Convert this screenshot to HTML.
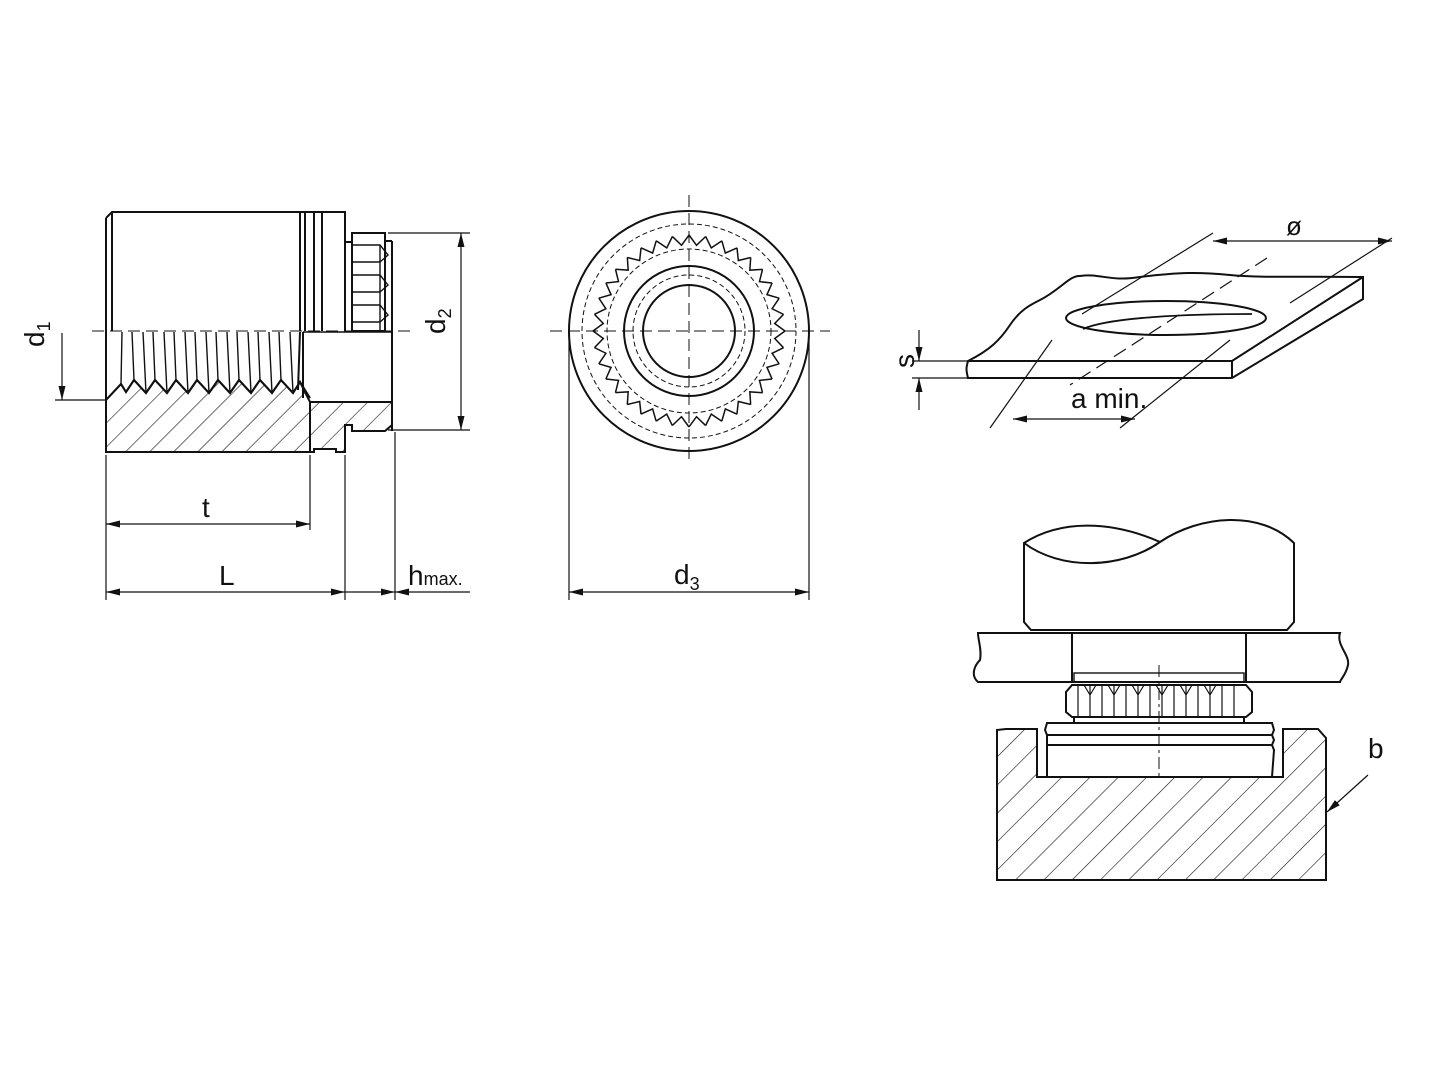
<!DOCTYPE html>
<html><head><meta charset="utf-8"><style>
html,body{margin:0;padding:0;background:#fff;}
svg{display:block;}
text{font-family:"Liberation Sans",sans-serif;fill:#111;}
</style></head><body>
<svg width="1440" height="1080" viewBox="0 0 1440 1080" xmlns="http://www.w3.org/2000/svg">
<defs>
<pattern id="h" patternUnits="userSpaceOnUse" width="17" height="17" patternTransform="rotate(45)">
<line x1="0" y1="0" x2="0" y2="17" stroke="#111" stroke-width="1.2"/></pattern>
<pattern id="h2" patternUnits="userSpaceOnUse" width="20" height="20" patternTransform="rotate(45)">
<line x1="0" y1="0" x2="0" y2="20" stroke="#111" stroke-width="1.2"/></pattern>
<marker id="a" viewBox="0 0 14 8" refX="14" refY="4" markerWidth="14" markerHeight="8" orient="auto-start-reverse" markerUnits="userSpaceOnUse"><path d="M0,0.5 L14,4 L0,7.5z" fill="#111"/></marker>
<path id="t" d="M785,331 L774.7,338.5 L783.5,347.7" fill="none" stroke="#111" stroke-width="1.5"/>
</defs>
<g fill="none" stroke="#111" stroke-width="2">
<!-- LEFT VIEW -->
<path d="M106,218 L112,212 L300,212 L300,331"/>
<line x1="112" y1="212" x2="112" y2="331"/>
<line x1="106" y1="218" x2="106" y2="452"/>
<path d="M300,212 L345,212 L345,331"/>
<line x1="305" y1="212" x2="305" y2="331"/>
<line x1="314" y1="212" x2="314" y2="331"/>
<line x1="322" y1="212" x2="322" y2="331"/>
<path d="M345,242 L352,242"/>
<rect x="352" y="233" width="33" height="98"/>
<line x1="392" y1="241" x2="392" y2="431"/>
<path d="M385,241 L392,241"/>
<g stroke-width="1.4"><path d="M352,245 L380,245 L388,255 L380,262 L352,262 M352,275 L380,275 L388,285 L380,292 L352,292 M352,305 L380,305 L388,315 L380,322 L352,322 M380,245 L380,331"/></g>
<path d="M106,400 L121,384 L126,392 L134,380 L146,393 L155,380 L167,393 L176,380 L188,393 L197,380 L209,393 L218,380 L230,393 L239,380 L251,393 L260,380 L272,393 L281,380 L293,393 L300,382 L310,398"/>
<g stroke-width="1.4"><path d="M122,332 L121,384 M132,332 L134,380 M143,332 L146,393 M153,332 L155,380 M164,332 L167,393 M174,332 L176,380 M185,332 L188,393 M195,332 L197,380 M206,332 L209,393 M216,332 L218,380 M227,332 L230,393 M237,332 L239,380 M248,332 L251,393 M258,332 L260,380 M269,332 L272,393 M279,332 L281,380 M290,332 L293,393"/></g>
<line x1="300" y1="332" x2="298" y2="390"/>
<line x1="303" y1="332" x2="303" y2="398"/>
<path d="M106,400 L121,384 L126,392 L134,380 L146,393 L155,380 L167,393 L176,380 L188,393 L197,380 L209,393 L218,380 L230,393 L239,380 L251,393 L260,380 L272,393 L281,380 L293,393 L300,382 L310,402 L392,402 L392,425 L385,431 L352,431 L352,425 L345,425 L345,452 L336,452 L336,449 L314,449 L314,452 L106,452 Z" fill="url(#h)"/>
<line x1="310" y1="402" x2="310" y2="452"/>
<line x1="303" y1="332" x2="392" y2="332" stroke-width="1.5"/>
<line x1="92" y1="331" x2="410" y2="331" stroke-width="1" stroke-dasharray="12,6"/>
<g stroke-width="1.2">
<line x1="106" y1="455" x2="106" y2="600"/>
<line x1="310" y1="455" x2="310" y2="530"/>
<line x1="345" y1="455" x2="345" y2="600"/>
<line x1="395" y1="432" x2="395" y2="600"/>
<line x1="106" y1="524" x2="310" y2="524" marker-start="url(#a)" marker-end="url(#a)"/>
<line x1="106" y1="592" x2="345" y2="592" marker-start="url(#a)" marker-end="url(#a)"/>
<line x1="345" y1="592" x2="395" y2="592" marker-end="url(#a)"/>
<line x1="395" y1="592" x2="470" y2="592" marker-start="url(#a)"/>
<line x1="388" y1="233" x2="470" y2="233"/>
<line x1="388" y1="430" x2="470" y2="430"/>
<line x1="461" y1="233" x2="461" y2="430" marker-start="url(#a)" marker-end="url(#a)"/>
<line x1="62" y1="333" x2="62" y2="400" marker-end="url(#a)"/>
<line x1="55" y1="400" x2="106" y2="400"/>
</g>
<!-- MIDDLE VIEW -->
<circle cx="689" cy="331" r="120"/>
<circle cx="689" cy="331" r="107" stroke-width="1" stroke-dasharray="5,3"/>
<circle cx="689" cy="331" r="82" stroke-width="1" stroke-dasharray="5,3"/>
<circle cx="689" cy="331" r="65"/>
<circle cx="689" cy="331" r="56" stroke-width="1" stroke-dasharray="5,3"/>
<circle cx="689" cy="331" r="46"/>
<line x1="550" y1="331" x2="830" y2="331" stroke-width="1" stroke-dasharray="12,6"/>
<line x1="689" y1="195" x2="689" y2="465" stroke-width="1" stroke-dasharray="12,6"/>
<g stroke-width="1.2">
<line x1="569" y1="331" x2="569" y2="600"/>
<line x1="809" y1="331" x2="809" y2="600"/>
<line x1="569" y1="592" x2="809" y2="592" marker-start="url(#a)" marker-end="url(#a)"/>
</g>
<!-- PLATE -->
<path d="M968,361 C990,350 1000,340 1010,325 C1020,310 1030,305 1040,300 C1060,290 1070,275 1080,276 C1100,273 1110,282 1140,277 C1180,272 1200,272 1230,275 C1260,278 1300,276 1363,277 L1363,299 L1232,378 L968,378 C966,370 966,368 968,361 Z"/>
<path d="M968,361 L1232,361 L1363,277 M1232,361 L1232,378"/>
<ellipse cx="1166" cy="318" rx="100" ry="17"/>
<path d="M1083,329 C1110,317 1190,314 1252,314" stroke-width="1.8"/>
<g stroke-width="1.2">
<line x1="1213" y1="233" x2="1082" y2="314"/>
<line x1="1052" y1="340" x2="990" y2="428"/>
<line x1="1392" y1="238" x2="1290" y2="303"/>
<line x1="1230" y1="340" x2="1120" y2="428"/>
<line x1="1267" y1="258" x2="1070" y2="385" stroke-dasharray="14,7"/>
<line x1="1213" y1="241" x2="1392" y2="241" marker-start="url(#a)" marker-end="url(#a)"/>
<line x1="1013" y1="419" x2="1135" y2="419" marker-start="url(#a)" marker-end="url(#a)"/>
<line x1="912" y1="361" x2="968" y2="361"/>
<line x1="912" y1="378" x2="968" y2="378"/>
<line x1="919" y1="330" x2="919" y2="361" marker-end="url(#a)"/>
<line x1="919" y1="410" x2="919" y2="378" marker-end="url(#a)"/>
</g>
<!-- ASSEMBLY -->
<path d="M1024,543 C1060,520 1110,520 1160,542 C1200,515 1260,510 1294,543 L1294,622 L1287,630 L1031,630 L1024,622 Z"/>
<path d="M1024,543 C1060,570 1120,570 1160,542"/>
<path d="M978,633 L1340,633 C1336,645 1350,655 1348,665 C1346,675 1340,680 1340,682 L978,682 C970,675 975,665 980,660 C982,650 978,640 978,633 Z"/>
<rect x="1072" y="633" width="174" height="49"/>
<rect x="1074" y="673" width="170" height="9" stroke-width="1.4"/>
<path d="M1072,685 L1246,685 L1252,692 L1252,712 L1246,717 L1072,717 L1066,712 L1066,692 Z"/>
<g stroke-width="1.2"><path d="M1078,685 L1078,717 M1090,685 L1090,717 M1102,685 L1102,717 M1114,685 L1114,717 M1126,685 L1126,717 M1138,685 L1138,717 M1150,685 L1150,717 M1162,685 L1162,717 M1174,685 L1174,717 M1186,685 L1186,717 M1198,685 L1198,717 M1210,685 L1210,717 M1222,685 L1222,717 M1234,685 L1234,717 M1084,685 L1090,695 L1096,685 M1108,685 L1114,695 L1120,685 M1132,685 L1138,695 L1144,685 M1156,685 L1162,695 L1168,685 M1180,685 L1186,695 L1192,685 M1204,685 L1210,695 L1216,685"/></g>
<rect x="1074" y="717" width="170" height="6"/>
<path d="M997,730 L1006,729 L1037,729 L1037,777 L1283,777 L1283,729 L1318,729 L1326,738 L1326,880 L997,880 Z" fill="url(#h2)"/>
<path d="M1047,723 L1272,723 L1274,730 L1272,735 L1047,735 L1045,730 Z"/>
<path d="M1047,735 L1272,735 L1274,740 L1272,745 L1047,745 Z"/>
<path d="M1047,745 L1272,745 L1274,750 L1272,777 L1047,777 Z"/>
<line x1="1159" y1="665" x2="1159" y2="780" stroke-width="1" stroke-dasharray="12,4,3,4"/>
<line x1="1368" y1="775" x2="1327" y2="812" stroke-width="1.2" marker-end="url(#a)"/>
</g>
<g>
<use href="#t"/><use href="#t" transform="rotate(10 689 331)"/><use href="#t" transform="rotate(20 689 331)"/><use href="#t" transform="rotate(30 689 331)"/><use href="#t" transform="rotate(40 689 331)"/><use href="#t" transform="rotate(50 689 331)"/><use href="#t" transform="rotate(60 689 331)"/><use href="#t" transform="rotate(70 689 331)"/><use href="#t" transform="rotate(80 689 331)"/><use href="#t" transform="rotate(90 689 331)"/><use href="#t" transform="rotate(100 689 331)"/><use href="#t" transform="rotate(110 689 331)"/><use href="#t" transform="rotate(120 689 331)"/><use href="#t" transform="rotate(130 689 331)"/><use href="#t" transform="rotate(140 689 331)"/><use href="#t" transform="rotate(150 689 331)"/><use href="#t" transform="rotate(160 689 331)"/><use href="#t" transform="rotate(170 689 331)"/><use href="#t" transform="rotate(180 689 331)"/><use href="#t" transform="rotate(190 689 331)"/><use href="#t" transform="rotate(200 689 331)"/><use href="#t" transform="rotate(210 689 331)"/><use href="#t" transform="rotate(220 689 331)"/><use href="#t" transform="rotate(230 689 331)"/><use href="#t" transform="rotate(240 689 331)"/><use href="#t" transform="rotate(250 689 331)"/><use href="#t" transform="rotate(260 689 331)"/><use href="#t" transform="rotate(270 689 331)"/><use href="#t" transform="rotate(280 689 331)"/><use href="#t" transform="rotate(290 689 331)"/><use href="#t" transform="rotate(300 689 331)"/><use href="#t" transform="rotate(310 689 331)"/><use href="#t" transform="rotate(320 689 331)"/><use href="#t" transform="rotate(330 689 331)"/><use href="#t" transform="rotate(340 689 331)"/><use href="#t" transform="rotate(350 689 331)"/>
</g>
<text x="55" y="358" font-size="28" transform="rotate(-90 44 358)">d<tspan font-size="18" dy="6">1</tspan></text>
<text x="456" y="345" font-size="28" transform="rotate(-90 445 345)">d<tspan font-size="18" dy="6">2</tspan></text>
<text x="202" y="517" font-size="28">t</text>
<text x="219" y="585" font-size="28">L</text>
<text x="408" y="585" font-size="28">h<tspan font-size="18">max.</tspan></text>
<text x="674" y="584" font-size="28">d<tspan font-size="18" dy="6">3</tspan></text>
<text x="1286" y="235" font-size="26">ø</text>
<text x="1071" y="408" font-size="28">a min.</text>
<text x="906" y="376" font-size="28" transform="rotate(-90 906 368)">s</text>
<text x="1368" y="758" font-size="28">b</text>
</svg>
</body></html>
